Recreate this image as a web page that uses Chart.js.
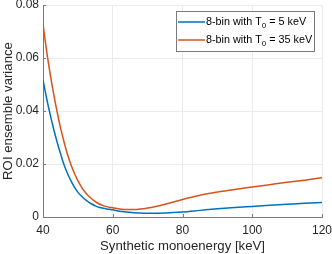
<!DOCTYPE html>
<html lang="en">
<head>
  <meta charset="UTF-8">
  <title>ROI ensemble variance</title>
  <script src="https://cdn.jsdelivr.net/npm/chart.js@4.4.0/dist/chart.umd.min.js"></script>
  <style>
    body { margin: 0; background: #fff; }
    #wrap { width: 332px; height: 254px; }
  </style>
</head>
<body>
  <div id="wrap">
    <canvas id="varChart"></canvas>
  </div>
  <script>
    // synthetic monoenergy [keV]
    const energies = [40, 41, 42, 43, 44, 45, 46, 47, 48, 49, 50, 51, 52, 53, 54, 55, 56, 57, 58, 59,
      60, 62, 64, 66, 68, 70, 72, 75, 80, 85, 90, 95, 100, 105, 110, 115, 120];

    // 8-bin, T0 = 5 keV
    const var5 = [0.0517, 0.0450, 0.0390, 0.0335, 0.0285, 0.0240, 0.0198, 0.0165, 0.0137, 0.0113,
      0.0094, 0.0079, 0.0067, 0.0057, 0.0049, 0.0042, 0.0037, 0.0034, 0.0031, 0.0029,
      0.0027, 0.0022, 0.0019, 0.0016, 0.0015, 0.0014, 0.0014, 0.0015, 0.0019, 0.0025,
      0.0031, 0.0036, 0.0040, 0.0044, 0.0048, 0.0052, 0.0055];

    // 8-bin, T0 = 35 keV
    const var35 = [0.0728, 0.0630, 0.0545, 0.0468, 0.0400, 0.0338, 0.0285, 0.0238, 0.0198, 0.0165,
      0.0137, 0.0114, 0.0095, 0.0080, 0.0068, 0.0058, 0.0050, 0.0044, 0.0040, 0.0037,
      0.0035, 0.0030, 0.0028, 0.0028, 0.0030, 0.0034, 0.0039, 0.0048, 0.0066, 0.0082,
      0.0094, 0.0104, 0.0113, 0.0122, 0.0131, 0.0139, 0.0148];

    const xTickLabels = ["40", "60", "80", "100", "120"];
    const yTickLabels = ["0", "0.02", "0.04", "0.06", "0.08"];

    // legend text split so the 0 can be drawn as a subscript
    const legendParts = [
      ["8-bin with T", "0", " = 5 keV"],
      ["8-bin with T", "0", " = 35 keV"]
    ];

    const axisColor = "#262626";
    const lineGrey = "#7a7a7a";
    const gridColor = "#ebebeb";
    const fontFamily = "'Liberation Sans', Arial, Helvetica, sans-serif";

    function toPoints(ys) {
      return energies.map((e, i) => ({ x: e, y: ys[i] }));
    }

    // matlab style ticks pointing into the axes
    const innerTicks = {
      id: "innerTicks",
      afterDatasetsDraw(chart) {
        const ctx = chart.ctx;
        const a = chart.chartArea;
        ctx.save();
        ctx.strokeStyle = lineGrey;
        ctx.lineWidth = 1;
        ctx.beginPath();
        chart.scales.x.ticks.forEach((t) => {
          const px = Math.round(chart.scales.x.getPixelForValue(t.value)) + 0.5;
          ctx.moveTo(px, a.bottom);
          ctx.lineTo(px, a.bottom - 3);
        });
        chart.scales.y.ticks.forEach((t) => {
          const py = Math.round(chart.scales.y.getPixelForValue(t.value)) + 0.5;
          ctx.moveTo(a.left, py);
          ctx.lineTo(a.left + 3, py);
        });
        ctx.stroke();
        ctx.restore();
      }
    };

    // boxed legend in the top right corner of the plot
    const boxLegend = {
      id: "boxLegend",
      afterDraw(chart) {
        const ctx = chart.ctx;
        const a = chart.chartArea;
        const w = 138, h = 40;
        const x0 = a.right - 8 - w;
        const y0 = a.top + 6;
        ctx.save();
        ctx.fillStyle = "#fff";
        ctx.fillRect(x0, y0, w, h);
        ctx.strokeStyle = lineGrey;
        ctx.lineWidth = 1;
        ctx.strokeRect(x0 + 0.5, y0 + 0.5, w, h);

        const size = 10.8;
        const subSize = 8;
        chart.data.datasets.forEach((ds, i) => {
          const cy = y0 + 11 + i * 18;
          ctx.strokeStyle = ds.borderColor;
          ctx.lineWidth = 1.5;
          ctx.beginPath();
          ctx.moveTo(x0 + 2, cy);
          ctx.lineTo(x0 + 29, cy);
          ctx.stroke();

          const parts = legendParts[i];
          ctx.fillStyle = "#000";
          ctx.textBaseline = "middle";
          let tx = x0 + 30;
          ctx.font = size + "px " + fontFamily;
          ctx.fillText(parts[0], tx, cy);
          tx += ctx.measureText(parts[0]).width;
          ctx.font = subSize + "px " + fontFamily;
          ctx.fillText(parts[1], tx, cy + 4);
          tx += ctx.measureText(parts[1]).width;
          ctx.font = size + "px " + fontFamily;
          ctx.fillText(parts[2], tx, cy);
        });
        ctx.restore();
      }
    };

    new Chart(document.getElementById("varChart"), {
      type: "line",
      data: {
        datasets: [
          {
            label: "8-bin with T0 = 5 keV",
            data: toPoints(var5),
            borderColor: "#0072BD",
            borderWidth: 1.5,
            pointRadius: 0,
            cubicInterpolationMode: "monotone",
            fill: false
          },
          {
            label: "8-bin with T0 = 35 keV",
            data: toPoints(var35),
            borderColor: "#D95319",
            borderWidth: 1.5,
            pointRadius: 0,
            cubicInterpolationMode: "monotone",
            fill: false
          }
        ]
      },
      options: {
        responsive: true,
        maintainAspectRatio: false,
        animation: false,
        devicePixelRatio: 1,
        layout: { padding: { top: 5, right: 10, left: 0, bottom: 0 } },
        plugins: {
          legend: { display: false },
          tooltip: { enabled: false }
        },
        scales: {
          x: {
            type: "linear",
            min: 40,
            max: 120,
            ticks: {
              stepSize: 20,
              maxRotation: 0,
              autoSkip: false,
              padding: 6,
              color: axisColor,
              font: { family: fontFamily, size: 12 },
              callback: (v, i) => xTickLabels[i]
            },
            grid: { color: gridColor, drawTicks: false },
            border: { color: lineGrey },
            title: {
              display: true,
              text: "Synthetic monoenergy [keV]",
              color: axisColor,
              font: { family: fontFamily, size: 13.2 },
              padding: { top: 0, bottom: 0 }
            },
            afterFit(s) {
              s.height = 37;
              s.paddingLeft = 0;
              s.paddingRight = 0;
            }
          },
          y: {
            min: 0,
            max: 0.08,
            ticks: {
              stepSize: 0.02,
              padding: 4,
              color: axisColor,
              font: { family: fontFamily, size: 12 },
              callback: (v, i) => yTickLabels[i]
            },
            grid: { color: gridColor, drawTicks: false },
            border: { color: lineGrey },
            title: {
              display: true,
              text: "ROI ensemble variance",
              color: axisColor,
              font: { family: fontFamily, size: 13.2 },
              padding: { top: 0, bottom: 0 }
            },
            afterFit(s) {
              s.width = 43;
              s.paddingTop = 0;
              s.paddingBottom = 0;
            }
          }
        }
      },
      plugins: [innerTicks, boxLegend]
    });
  </script>
</body>
</html>
